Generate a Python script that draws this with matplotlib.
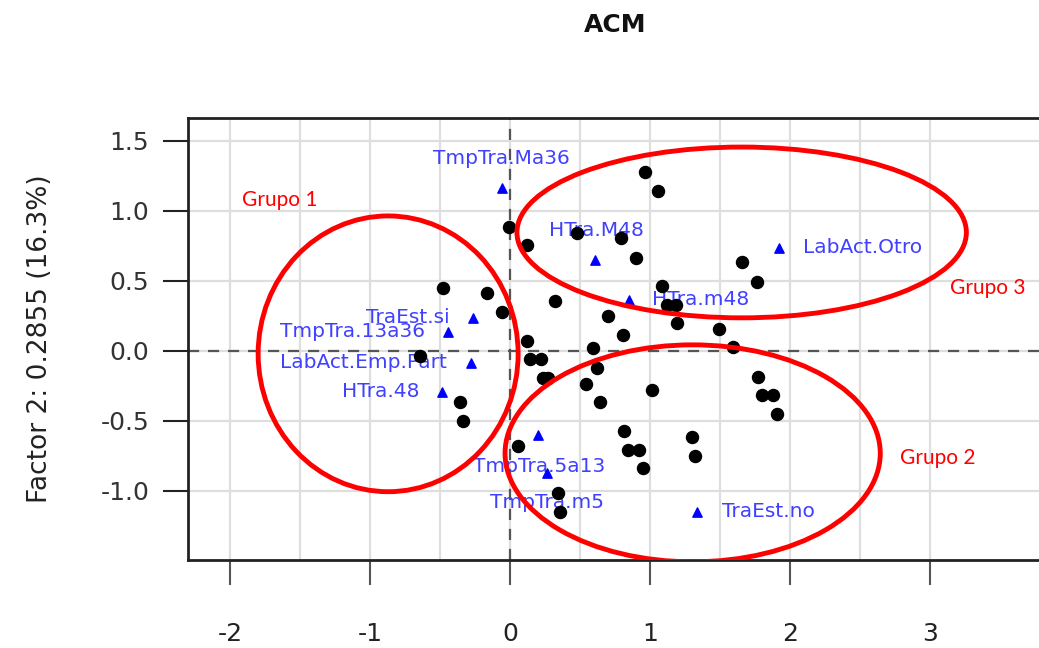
import numpy as np
import matplotlib
matplotlib.use('Agg')
import matplotlib.pyplot as plt
from matplotlib.patches import Ellipse

plt.rcParams['axes.unicode_minus'] = False
plt.rcParams['font.family'] = 'DejaVu Sans'

# =========================================================
#                           data
# =========================================================
# individuals (black dots)
ind_x = [-0.007, 0.121, 0.479, -0.479, -0.164, -0.057, 0.321, 0.121, 0.143, 0.221,
         -0.643, 0.593, 0.964, 1.057, 0.793, 0.900, 1.086, 1.121, 1.186, 0.700,
         0.807, 1.193, 1.657, 1.764, 1.493, 1.593, 1.771, 1.800, 1.879, 1.907,
         1.300, 0.236, 0.271, 0.621, 0.543, 0.643, 1.014, 0.814, 0.843, 0.921,
         0.950, 1.321, 0.057, 0.343, 0.357, -0.357, -0.336]
ind_y = [0.886, 0.757, 0.843, 0.450, 0.414, 0.279, 0.357, 0.071, -0.057, -0.057,
         -0.036, 0.021, 1.279, 1.143, 0.807, 0.664, 0.464, 0.329, 0.329, 0.250,
         0.114, 0.200, 0.636, 0.493, 0.157, 0.029, -0.186, -0.314, -0.314, -0.450,
         -0.614, -0.193, -0.193, -0.121, -0.236, -0.364, -0.279, -0.571, -0.707, -0.707,
         -0.836, -0.750, -0.679, -1.014, -1.150, -0.364, -0.500]

# categories (blue triangles)
cat_labels = ['TmpTra.Ma36', 'HTra.M48', 'LabAct.Otro', 'HTra.m48', 'TraEst.si',
              'TmpTra.13a36', 'LabAct.Emp.Part', 'HTra.48', 'TmpTra.5a13',
              'TmpTra.m5', 'TraEst.no']
cat_x = [-0.057, 0.607, 1.921, 0.850, -0.264, -0.443, -0.279, -0.486, 0.200, 0.264, 1.336]
cat_y = [1.164, 0.650, 0.736, 0.364, 0.236, 0.136, -0.086, -0.293, -0.600, -0.871, -1.150]

# where the category names sit
lab_x = [-0.064, 0.614, 2.093, 1.014, -0.429, -0.607, -0.450, -0.650, 0.207, 0.264, 1.514]
lab_y = [1.371, 0.857, 0.736, 0.364, 0.236, 0.136, -0.086, -0.293, -0.829, -1.086, -1.150]
lab_ha = ['center', 'center', 'left', 'left', 'right', 'right', 'right', 'right',
          'center', 'center', 'left']

# groups drawn by hand
grp_names = ['Grupo 1', 'Grupo 2', 'Grupo 3']
grp_cx = [-0.871, 1.304, 1.654]
grp_cy = [-0.021, -0.732, 0.846]
grp_w = [1.857, 2.68, 3.21]
grp_h = [1.97, 1.55, 1.22]
grp_tx = [-1.914, 2.786, 3.143]
grp_ty = [1.079, -0.764, 0.450]

xticks = [-2, -1, 0, 1, 2, 3]
yticks = [-1.0, -0.5, 0.0, 0.5, 1.0, 1.5]

# =========================================================
#                           plot
# =========================================================
fig = plt.figure(figsize=(10.39, 6.48), dpi=100)
ax = fig.add_axes([0.181, 0.136, 0.822, 0.682])
ax.set_xlim(-2.3, 3.8)
ax.set_ylim(-1.493, 1.664)

# grid every 0.5
for gx in np.arange(-2, 3.01, 0.5):
    ax.axvline(gx, color='#dedede', lw=1.6, zorder=0)
for gy in np.arange(-1.0, 1.51, 0.5):
    ax.axhline(gy, color='#dedede', lw=1.6, zorder=0)
ax.axvline(0, color='#555555', lw=1.6, ls=(0, (5, 4)), zorder=1)
ax.axhline(0, color='#555555', lw=1.6, ls=(0, (5, 4)), zorder=1)

for i in range(len(cat_labels)):
    ax.text(lab_x[i], lab_y[i], cat_labels[i], color='#4040ff', fontsize=14.5,
            ha=lab_ha[i], va='center', zorder=2)
ax.scatter(cat_x, cat_y, marker='^', s=45, color='blue', zorder=3)
ax.scatter(ind_x, ind_y, marker='o', s=75, color='black', zorder=4)

for i in range(len(grp_names)):
    ax.add_patch(Ellipse((grp_cx[i], grp_cy[i]), grp_w[i], grp_h[i], fill=False,
                         edgecolor='#ff0000', lw=3.5, zorder=5))
    ax.text(grp_tx[i], grp_ty[i], grp_names[i], color='#ff0000', fontsize=15,
            family='Lato', ha='left', va='center', zorder=6)

ax.set_xticks(xticks)
ax.set_xticklabels([str(t) for t in xticks])
ax.set_yticks(yticks)
ax.set_yticklabels(['%.1f' % t for t in yticks])
ax.tick_params(axis='x', length=18, width=1.5, color='#555555', pad=27,
               labelsize=18, labelcolor='#222222')
ax.tick_params(axis='y', length=18, width=1.5, color='#222222', pad=10,
               labelsize=18, labelcolor='#333333')
for sp in ax.spines.values():
    sp.set_linewidth(2)
    sp.set_color('#222222')

fig.text(40 / 1039, 0.478, 'Factor 2: 0.2855 (16.3%)', rotation=90,
         ha='center', va='center', fontsize=19, color='#222222')
fig.text(615 / 1039, 0.961, 'ACM', ha='center', va='center', fontsize=18,
         fontweight='bold', color='#111111')

fig.savefig('out.png', dpi=100)
